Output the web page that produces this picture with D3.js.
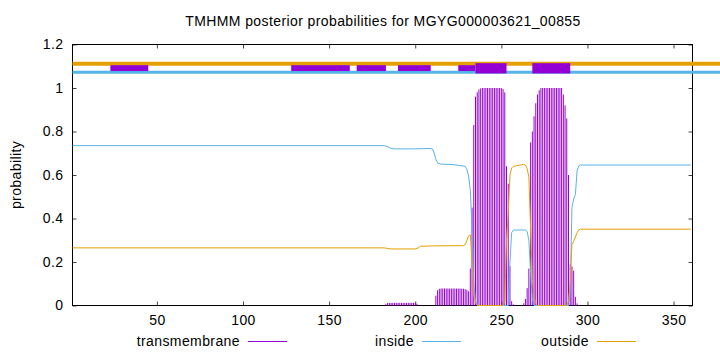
<!DOCTYPE html>
<html lang="en">

<head>
  <meta charset="UTF-8">
  <title>TMHMM posterior probabilities</title>
  <script src="https://d3js.org/d3.v7.min.js"></script>
  <style>
    body { margin: 0; background: #fff; }
    text { font-family: "Liberation Sans", Arial, sans-serif; font-size: 14px; letter-spacing: 0.4px; fill: #000; }
  </style>
</head>

<body>
  <script>
    const title = 'TMHMM posterior probabilities for MGYG000003621_00855';
    const xTicks = [50, 100, 150, 200, 250, 300, 350];
    const yTicks = [0, 0.2, 0.4, 0.6, 0.8, 1, 1.2];

    // transmembrane probability per residue (zero elsewhere)
    const tmProb = [
      [183, 0.006], [184, 0.012], [185, 0.012], [186, 0.012], [187, 0.012], [188, 0.012], [189, 0.012],
      [190, 0.012], [191, 0.012], [192, 0.012], [193, 0.012], [194, 0.012], [195, 0.012], [196, 0.012],
      [197, 0.012], [198, 0.012], [199, 0.012], [200, 0.012], [201, 0.008],
      [212, 0.045], [213, 0.07], [214, 0.077], [215, 0.078], [216, 0.078], [217, 0.078], [218, 0.078],
      [219, 0.078], [220, 0.078], [221, 0.078], [222, 0.078], [223, 0.078], [224, 0.078], [225, 0.078],
      [226, 0.078], [227, 0.077], [228, 0.077], [229, 0.075], [230, 0.072], [231, 0.065],
      [232, 0.17], [233, 0.45], [234, 0.83], [235, 0.96], [236, 0.98], [237, 0.993], [238, 0.998],
      [239, 1], [240, 1], [241, 1], [242, 1], [243, 1], [244, 1], [245, 1], [246, 1], [247, 1],
      [248, 1], [249, 1], [250, 1], [251, 0.995], [252, 0.98], [253, 0.64], [254, 0.56], [255, 0.18],
      [256, 0.02], [257, 0.005],
      [263, 0.01], [264, 0.03], [265, 0.08], [266, 0.17], [267, 0.75], [268, 0.8], [269, 0.87],
      [270, 0.93], [271, 0.97], [272, 0.99], [273, 1], [274, 1], [275, 1], [276, 1], [277, 1],
      [278, 1], [279, 1], [280, 1], [281, 1], [282, 1], [283, 1], [284, 1], [285, 1], [286, 0.97],
      [287, 0.92], [288, 0.86], [289, 0.6], [290, 0.19], [291, 0.18], [292, 0.16], [293, 0.04], [294, 0.01]
    ];

    // inside / outside probability, read at the residues where the curve bends
    const insideProb = [
      [1, 0.735], [182, 0.735], [184, 0.73], [186, 0.722], [188, 0.72], [200, 0.72], [208, 0.722],
      [210, 0.72], [211, 0.7], [212, 0.672], [213, 0.655], [215, 0.65], [222, 0.648], [229, 0.64],
      [230, 0.625], [231, 0.595], [232, 0.53], [233, 0.35], [234, 0.1], [235, 0.02], [236, 0.005],
      [237, 0], [254, 0], [255, 0.2], [256, 0.335], [257, 0.347], [264, 0.347], [265, 0.34],
      [266, 0.3], [267, 0.15], [268, 0.03], [269, 0], [289, 0], [290, 0.05], [291, 0.45],
      [292, 0.49], [293, 0.51], [294, 0.62], [295, 0.642], [296, 0.646], [360, 0.646]
    ];
    const outsideProb = [
      [1, 0.265], [182, 0.265], [184, 0.262], [186, 0.26], [200, 0.26], [202, 0.266], [203, 0.272],
      [210, 0.274], [228, 0.275], [229, 0.28], [230, 0.3], [231, 0.32], [232, 0.325], [233, 0.2],
      [234, 0.05], [235, 0.01], [236, 0], [251, 0], [252, 0.02], [253, 0.3], [254, 0.42],
      [255, 0.6], [256, 0.632], [257, 0.64], [263, 0.649], [264, 0.646], [265, 0.63], [266, 0.59],
      [267, 0.35], [268, 0.12], [269, 0.04], [270, 0.01], [271, 0], [288, 0], [289, 0.02],
      [290, 0.1], [291, 0.28], [292, 0.295], [293, 0.315], [294, 0.335], [295, 0.348],
      [296, 0.351], [360, 0.351]
    ];

    // topology bars above the plot
    const bandOutside = 1.111;
    const bandInside = 1.072;
    const smallBoxes = [[23, 45], [128, 162], [166, 183], [190, 209], [225, 235]];
    const bigBoxes = [[235, 253], [268, 290]];

    const legend = [
      { name: 'transmembrane', color: '#9400d3' },
      { name: 'inside', color: '#56b4e9' },
      { name: 'outside', color: '#e69f00' }
    ];

    const w = 720;
    const h = 352;

    const xScale = d3.scaleLinear().domain([1, 361]).range([72.5, 692.5]);
    const yScale = d3.scaleLinear().domain([0, 1.2]).range([305.5, 44.5]);

    const svg = d3.select('body')
      .append('svg')
      .attr('width', w)
      .attr('height', h);

    // title
    svg.append('text')
      .attr('x', 383)
      .attr('y', 26)
      .attr('text-anchor', 'middle')
      .text(title);

    // y label
    svg.append('text')
      .attr('transform', 'translate(21,175) rotate(-90)')
      .attr('text-anchor', 'middle')
      .text('probability');

    // axes, ticks inward and mirrored
    const axBottom = svg.append('g')
      .attr('transform', 'translate(0,305.5)')
      .call(d3.axisBottom(xScale).tickValues(xTicks).tickSize(-4).tickPadding(10).tickFormat(d3.format('d')));
    const axTop = svg.append('g')
      .attr('transform', 'translate(0,44.5)')
      .call(d3.axisTop(xScale).tickValues(xTicks).tickSize(-4).tickFormat(''));
    const axLeft = svg.append('g')
      .attr('transform', 'translate(72.5,0)')
      .call(d3.axisLeft(yScale).tickValues(yTicks).tickSize(-4).tickPadding(9).tickFormat(d => d3.format('~g')(d)));
    const axRight = svg.append('g')
      .attr('transform', 'translate(692.5,0)')
      .call(d3.axisRight(yScale).tickValues(yTicks).tickSize(-4).tickFormat(''));

    [axBottom, axTop, axLeft, axRight].forEach(g => {
      g.select('.domain').remove();
      g.selectAll('line').attr('stroke', '#444');
      g.selectAll('text')
        .attr('font-family', null)
        .attr('font-size', null)
        .attr('fill', '#000');
    });

    // border
    svg.append('rect')
      .attr('x', xScale(1))
      .attr('y', yScale(1.2))
      .attr('width', xScale(361) - xScale(1))
      .attr('height', yScale(0) - yScale(1.2))
      .attr('fill', 'none')
      .attr('stroke', '#000');

    // transmembrane impulses
    svg.selectAll('line.tm')
      .data(tmProb)
      .enter()
      .append('line')
      .attr('class', 'tm')
      .attr('x1', d => xScale(d[0]))
      .attr('x2', d => xScale(d[0]))
      .attr('y1', yScale(0))
      .attr('y2', d => yScale(d[1]))
      .attr('stroke', '#9400d3')
      .attr('stroke-width', 1);

    const line = d3.line()
      .x(d => xScale(d[0]))
      .y(d => yScale(d[1]));

    svg.append('path')
      .datum(insideProb)
      .attr('d', line)
      .attr('fill', 'none')
      .attr('stroke', '#56b4e9')
      .attr('stroke-width', 1);

    svg.append('path')
      .datum(outsideProb)
      .attr('d', line)
      .attr('fill', 'none')
      .attr('stroke', '#e69f00')
      .attr('stroke-width', 1);

    // topology bands (run past the right border like the original)
    svg.append('line')
      .attr('x1', xScale(1)).attr('x2', w)
      .attr('y1', yScale(bandOutside)).attr('y2', yScale(bandOutside))
      .attr('stroke', '#e69f00')
      .attr('stroke-width', 4);
    svg.append('line')
      .attr('x1', xScale(1)).attr('x2', w)
      .attr('y1', yScale(bandInside)).attr('y2', yScale(bandInside))
      .attr('stroke', '#56b4e9')
      .attr('stroke-width', 3);

    svg.selectAll('rect.small')
      .data(smallBoxes)
      .enter()
      .append('rect')
      .attr('class', 'small')
      .attr('x', d => xScale(d[0]))
      .attr('width', d => xScale(d[1]) - xScale(d[0]))
      .attr('y', yScale(1.105))
      .attr('height', yScale(1.078) - yScale(1.105))
      .attr('fill', '#9400d3');

    svg.selectAll('rect.big')
      .data(bigBoxes)
      .enter()
      .append('rect')
      .attr('class', 'big')
      .attr('x', d => xScale(d[0]))
      .attr('width', d => xScale(d[1]) - xScale(d[0]))
      .attr('y', yScale(1.114))
      .attr('height', yScale(1.067) - yScale(1.114))
      .attr('fill', '#9400d3');

    // legend along the bottom
    const legendX = [240, 414, 589];
    const key = svg.selectAll('g.key')
      .data(legend)
      .enter()
      .append('g')
      .attr('class', 'key')
      .attr('transform', (d, i) => `translate(${legendX[i]},346)`);
    key.append('text')
      .attr('text-anchor', 'end')
      .text(d => d.name);
    key.append('line')
      .attr('x1', 8).attr('x2', 47)
      .attr('y1', -4.5).attr('y2', -4.5)
      .attr('stroke', d => d.color);
  </script>
</body>

</html>
